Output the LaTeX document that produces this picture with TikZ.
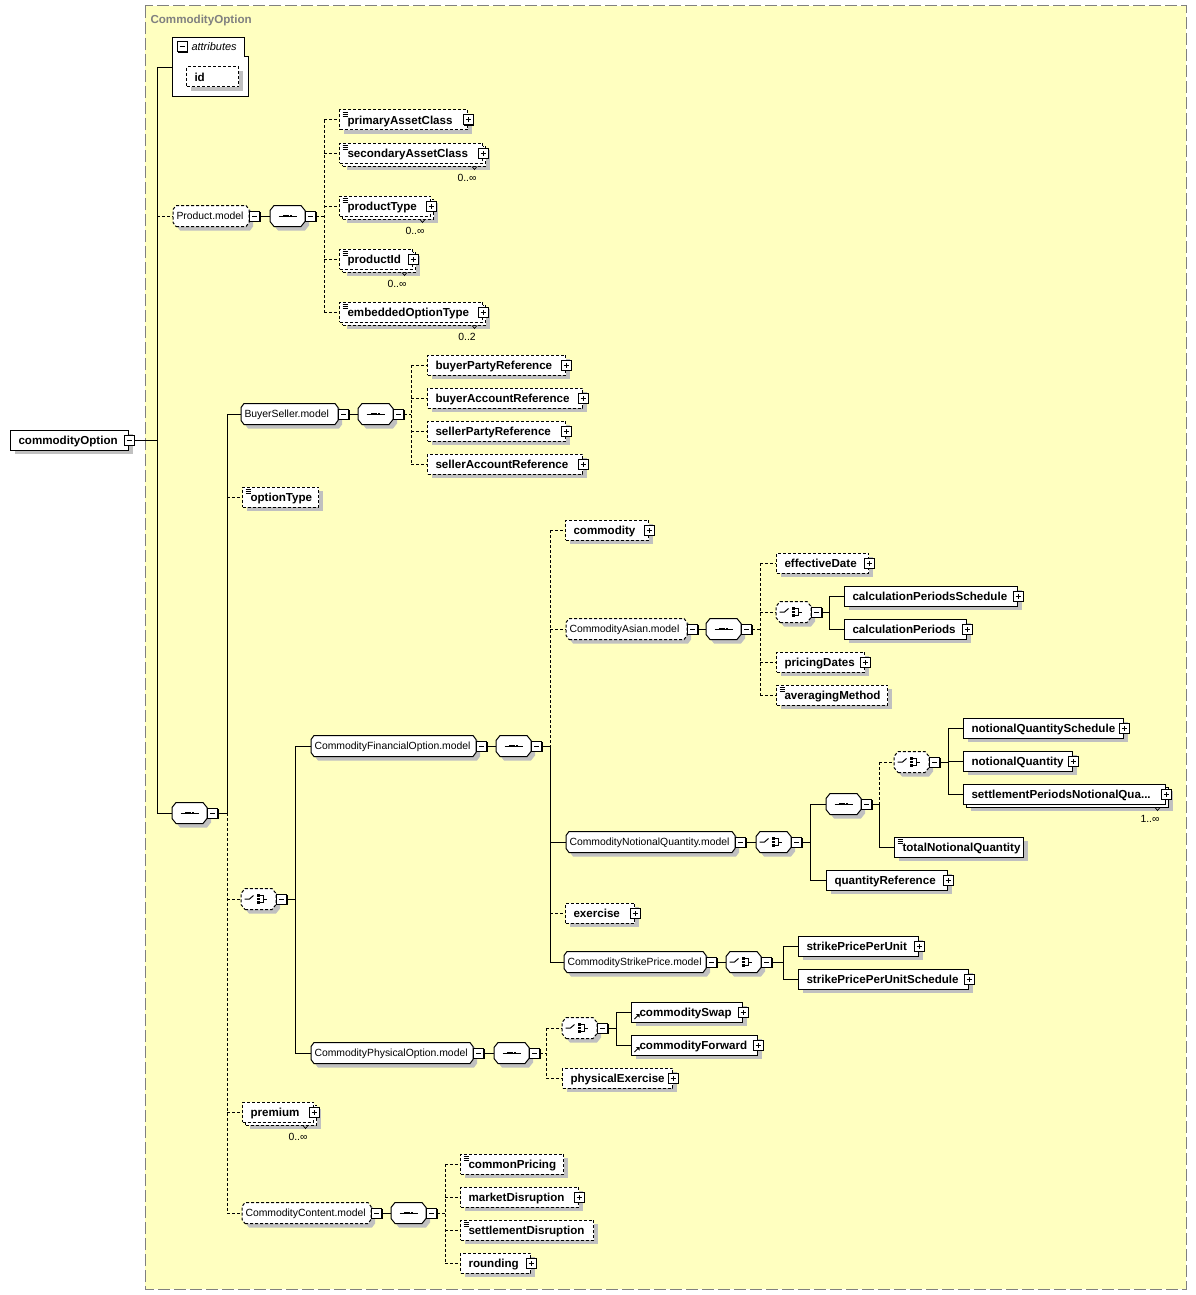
\documentclass[tikz,border=0pt]{standalone}
\usepackage{fontspec}
\newfontfamily\lsans{Liberation Sans}
\usetikzlibrary{positioning,shadows}
\definecolor{bgyellow}{RGB}{255,255,192}
\definecolor{shadowgray}{RGB}{192,192,192}
\definecolor{framegray}{RGB}{128,128,128}
\newcommand\elemfont{\lsans\bfseries\fontsize{11.6}{13}\selectfont}
\newcommand\grpfont{\lsans\fontsize{10.4}{12}\selectfont}

% octagon box for groups and compositors
\makeatletter
\pgfkeys{/pgf/oct xcut/.initial=3pt,/pgf/oct ycut/.initial=4pt}
\pgfdeclareshape{octbox}{%
  \inheritsavedanchors[from=rectangle]%
  \inheritanchorborder[from=rectangle]%
  \inheritanchor[from=rectangle]{center}%
  \inheritanchor[from=rectangle]{north}%
  \inheritanchor[from=rectangle]{south}%
  \inheritanchor[from=rectangle]{west}%
  \inheritanchor[from=rectangle]{east}%
  \inheritanchor[from=rectangle]{north west}%
  \inheritanchor[from=rectangle]{north east}%
  \inheritanchor[from=rectangle]{south west}%
  \inheritanchor[from=rectangle]{south east}%
  \backgroundpath{%
    \southwest\edef\oxa{\the\pgf@x}\edef\oya{\the\pgf@y}%
    \northeast\edef\oxb{\the\pgf@x}\edef\oyb{\the\pgf@y}%
    \pgfmathsetlengthmacro\ocx{\pgfkeysvalueof{/pgf/oct xcut}}%
    \pgfmathsetlengthmacro\ocy{\pgfkeysvalueof{/pgf/oct ycut}}%
    \pgfpathmoveto{\pgfpoint{\oxa+\ocx}{\oya}}%
    \pgfpathlineto{\pgfpoint{\oxb-\ocx}{\oya}}%
    \pgfpathlineto{\pgfpoint{\oxb}{\oya+\ocy}}%
    \pgfpathlineto{\pgfpoint{\oxb}{\oyb-\ocy}}%
    \pgfpathlineto{\pgfpoint{\oxb-\ocx}{\oyb}}%
    \pgfpathlineto{\pgfpoint{\oxa+\ocx}{\oyb}}%
    \pgfpathlineto{\pgfpoint{\oxa}{\oyb-\ocy}}%
    \pgfpathlineto{\pgfpoint{\oxa}{\oya+\ocy}}%
    \pgfpathclose}%
}
\makeatother

\begin{document}
\begin{tikzpicture}[x=1pt,y=-1pt,line width=1pt,
  opt/.style={dash pattern=on 3pt off 2pt},
  sh/.style={general shadow={shadow xshift=4pt,shadow yshift=-4pt,fill=shadowgray}},
  multi/.style={general shadow={shadow xshift=7pt,shadow yshift=-7pt,fill=shadowgray},
    general shadow={shadow xshift=3pt,shadow yshift=-3pt,fill=white,draw,#1}},
  multi/.default=solid,
  box/.style={draw,fill=white,anchor=west,minimum height=20pt,inner xsep=8pt,inner ysep=0pt,
    font=\elemfont,text height=8.5pt,text depth=0pt,
    execute at begin node={\hbox to #1pt\bgroup},execute at end node={\hss\egroup}},
  elem/.style={box=#1,sh},
  elemm/.style={box=#1},
  grp/.style={draw,fill=white,anchor=west,octbox,oct xcut=3pt,oct ycut=4pt,minimum height=20pt,
    inner xsep=3pt,inner ysep=0pt,font=\grpfont,text height=7pt,text depth=0pt,
    execute at begin node={\hbox to #1pt\bgroup},execute at end node={\hss\egroup},sh},
  comp/.style={draw,fill=white,anchor=west,octbox,oct xcut=4pt,oct ycut=5pt,
    minimum width=34pt,minimum height=20pt,inner sep=0pt,sh},
  seqc/.style={comp,path picture={
    \draw[solid] ([xshift=-9pt]path picture bounding box.center) -- ([xshift=9pt]path picture bounding box.center);
    \foreach \d in {-3.2,0,3.2} \fill[black] ([xshift=\d pt]path picture bounding box.center) +(-1.2pt,-1.3pt) rectangle +(1.2pt,1.3pt);}},
  choc/.style={comp,path picture={
    \draw[solid] ([xshift=-14pt]path picture bounding box.center) -- ([xshift=-9pt]path picture bounding box.center)
      -- ([shift={(-5pt,3.5pt)}]path picture bounding box.center);
    \foreach \d in {-3.5,0,3.5} \fill[black] ([shift={(0pt,\d pt)}]path picture bounding box.center) +(-1.4pt,-1.3pt) rectangle +(1.4pt,1.3pt);
    \draw[solid] ([shift={(1.4pt,3.5pt)}]path picture bounding box.center) -- ++(3.6pt,0pt) -- ++(0pt,-7pt) -- ++(-3.6pt,0pt);
    \draw[solid] ([shift={(5pt,0pt)}]path picture bounding box.center) -- ++(3.5pt,0pt);}},
  simple/.style={path picture={
    \foreach \k in {2,4,6} \draw[solid,line width=0.7pt] ([shift={(3pt,-\k pt)}]path picture bounding box.north west) -- ++(5pt,0pt);}},
  refe/.style={path picture={
    \draw[solid,line width=0.8pt] ([shift={(3pt,3pt)}]path picture bounding box.south west) -- ++(4pt,4pt);
    \fill[black] ([shift={(8pt,8pt)}]path picture bounding box.south west) -- ++(-3.5pt,0pt) -- ++(3.5pt,-3.5pt) -- cycle;}},
  pm/.style={draw,fill=white,solid,minimum size=10pt,inner sep=0pt,
    general shadow={shadow xshift=1pt,shadow yshift=-1pt,fill=black}},
  mbox/.style={pm,path picture={
    \draw ([xshift=2.5pt]path picture bounding box.west) -- ([xshift=-2.5pt]path picture bounding box.east);}},
  pbox/.style={pm,path picture={
    \draw ([xshift=2.5pt]path picture bounding box.west) -- ([xshift=-2.5pt]path picture bounding box.east);
    \draw ([yshift=2.5pt]path picture bounding box.south) -- ([yshift=-2.5pt]path picture bounding box.north);}},
  mult/.style={font=\grpfont,inner sep=0pt}]
\useasboundingbox (0,0) rectangle (1196,1295);
\draw[framegray,dash pattern=on 12pt off 4pt,fill=bgyellow] (145,6) rectangle (1186,1289);
\node[anchor=west,inner sep=0pt,text=framegray,font=\elemfont,text height=8.5pt,text depth=0pt] (title) at (150,19) {CommodityOption};

% root and attributes
\node[elem=102] (root) at (10,440) {commodityOption};
\draw[fill=white] (172,38) -- (244,38) -- (244,57) -- (248,57) -- (248,97) -- (172,97) -- cycle;
\coordinate (attr) at (172,68);
\node[mbox] (attr-m) at (182,47) {};
\node[anchor=west,inner sep=0pt,font=\lsans\itshape\fontsize{11}{13}\selectfont,text height=7.5pt,text depth=0pt] (attr-t) at (191,47) {attributes};
\node[elem=36,opt] (id) at (186,77) {id};

% Product.model
\node[grp=69,opt] (pmod) at (173,216) {Product.model};
\node[seqc] (pseq) at (270,216) {};
\node[elem=112,opt,simple] (pac) at (339,120) {primaryAssetClass};
\node[elemm=127,opt,simple,multi=opt] (sac) at (339,153) {secondaryAssetClass};
\node[elemm=75,opt,simple,multi=opt] (pt) at (339,206) {productType};
\node[elemm=57,opt,simple,multi=opt] (pid) at (339,259) {productId};
\node[elemm=127,opt,simple,multi=opt] (eot) at (339,312) {embeddedOptionType};

% main sequence
\node[seqc] (mseq) at (172,813) {};
\node[grp=90] (bsmod) at (241,414) {BuyerSeller.model};
\node[seqc] (bsseq) at (358,414) {};
\node[elem=122,opt] (bpr) at (427,365) {buyerPartyReference};
\node[elem=139,opt] (bar) at (427,398) {buyerAccountReference};
\node[elem=122,opt] (spr) at (427,431) {sellerPartyReference};
\node[elem=139,opt] (sar) at (427,464) {sellerAccountReference};
\node[elem=60,opt,simple] (ot) at (242,497) {optionType};
\node[choc,opt] (mch) at (241,899) {};

% CommodityFinancialOption.model
\node[grp=158] (cfo) at (311,746) {CommodityFinancialOption.model};
\node[seqc] (cfseq) at (496,746) {};
\node[elem=67,opt] (comm) at (565,530) {commodity};
\node[grp=114,opt] (camod) at (566,629) {CommodityAsian.model};
\node[seqc] (caseq) at (706,629) {};
\node[elem=76,opt] (effd) at (776,563) {effectiveDate};
\node[choc,opt] (cach) at (776,612) {};
\node[elem=157] (cps) at (844,596) {calculationPeriodsSchedule};
\node[elem=106] (cp) at (844,629) {calculationPeriods};
\node[elem=72,opt] (prd) at (776,662) {pricingDates};
\node[elem=95,opt,simple] (avgm) at (776,695) {averagingMethod};
\node[grp=162] (cnq) at (566,842) {CommodityNotionalQuantity.model};
\node[choc] (cnch) at (756,842) {};
\node[seqc] (nseq) at (826,804) {};
\node[choc,opt] (nch) at (894,762) {};
\node[elem=144] (nqs) at (963,728) {notionalQuantitySchedule};
\node[elem=93] (nq) at (963,761) {notionalQuantity};
\node[elemm=186,multi] (spnq) at (963,794) {settlementPeriodsNotionalQua...};
\node[elem=113,simple] (tnq) at (894,847) {totalNotionalQuantity};
\node[elem=105] (qr) at (826,880) {quantityReference};
\node[elem=53,opt] (exer) at (565,913) {exercise};
\node[grp=135] (csp) at (564,962) {CommodityStrikePrice.model};
\node[choc] (scch) at (726,962) {};
\node[elem=104] (sppu) at (798,946) {strikePricePerUnit};
\node[elem=154] (sppus) at (798,979) {strikePricePerUnitSchedule};

% CommodityPhysicalOption.model
\node[grp=155] (cpo) at (311,1053) {CommodityPhysicalOption.model};
\node[seqc] (ppseq) at (494,1053) {};
\node[choc,opt] (pch) at (562,1028) {};
\node[elem=95,refe] (cs) at (631,1012) {commoditySwap};
\node[elem=110,refe] (cf) at (631,1045) {commodityForward};
\node[elem=94,opt] (pex) at (562,1078) {physicalExercise};
\node[elemm=55,opt,multi=opt] (prem) at (242,1112) {premium};

% CommodityContent.model
\node[grp=122,opt] (ccmod) at (242,1213) {CommodityContent.model};
\node[seqc] (ccseq) at (391,1213) {};
\node[elem=87,opt,simple] (cpr) at (460,1164) {commonPricing};
\node[elem=102,opt] (mkd) at (460,1197) {marketDisruption};
\node[elem=117,opt,simple] (std) at (460,1230) {settlementDisruption};
\node[elem=54,opt] (rnd) at (460,1263) {rounding};

% minus and plus boxes
\node[mbox] (root-m) at (root.east) {};
\foreach \n in {pmod,pseq,bsmod,bsseq,mseq,mch,cfo,cfseq,camod,caseq,cach,cnq,cnch,nseq,nch,csp,scch,cpo,ppseq,pch,ccmod,ccseq}
  \node[mbox,anchor=west] (\n-m) at (\n.east) {};
\foreach \n in {pac,sac,pt,pid,eot,bpr,bar,spr,sar,comm,effd,cps,cp,prd,nqs,nq,spnq,qr,exer,sppu,sppus,cs,cf,pex,prem,mkd,rnd}
  \node[pbox] (\n-p) at (\n.east) {};
\foreach \n/\m in {sac/0..∞,pt/0..∞,pid/0..∞,eot/0..2,spnq/1..∞,prem/0..∞}{
  \node[mult] (\n-n) at ([shift={(-16pt,-14pt)}]\n.south east) {\m};
  \draw[line width=0.7pt] ([shift={(-11pt,-3pt)}]\n.south east) -- ++(2.5pt,-3pt) -- ++(2.5pt,3pt);
}

% connectors
\coordinate (rb) at (157,440);
\draw (root-m.east) -- (rb);
\draw (rb |- attr) -- (rb |- mseq.west);
\draw (rb |- attr) -- (attr);
\draw[opt] (rb |- pmod.west) -- (pmod.west);
\draw (rb |- mseq.west) -- (mseq.west);

\draw (pmod-m.east) -- (pseq.west);
\coordinate (pb) at (324,216);
\draw[opt] (pseq-m.east) -- (pb);
\draw[opt] (pb |- pac.west) -- (pb |- eot.west);
\foreach \n in {pac,sac,pt,pid,eot} \draw[opt] (pb |- \n.west) -- (\n.west);

\coordinate (mb) at (227,813);
\draw (mseq-m.east) -- (mb);
\draw (mb |- bsmod.west) -- (mb);
\draw[opt] (mb) -- (mb |- ccmod.west);
\draw (mb |- bsmod.west) -- (bsmod.west);
\foreach \n in {ot,mch,prem,ccmod} \draw[opt] (mb |- \n.west) -- (\n.west);

\draw (bsmod-m.east) -- (bsseq.west);
\coordinate (bsb) at (411,414);
\draw[opt] (bsseq-m.east) -- (bsb);
\draw[opt] (bsb |- bpr.west) -- (bsb |- sar.west);
\foreach \n in {bpr,bar,spr,sar} \draw[opt] (bsb |- \n.west) -- (\n.west);

\coordinate (chb) at (295,899);
\draw (mch-m.east) -- (chb);
\draw (chb |- cfo.west) -- (chb |- cpo.west);
\foreach \n in {cfo,cpo} \draw (chb |- \n.west) -- (\n.west);

\draw (cfo-m.east) -- (cfseq.west);
\coordinate (cfb) at (550,746);
\draw (cfseq-m.east) -- (cfb);
\draw[opt] (cfb |- comm.west) -- (cfb);
\draw (cfb) -- (cfb |- csp.west);
\foreach \n in {comm,camod,exer} \draw[opt] (cfb |- \n.west) -- (\n.west);
\foreach \n in {cnq,csp} \draw (cfb |- \n.west) -- (\n.west);

\draw (camod-m.east) -- (caseq.west);
\coordinate (cab) at (760,629);
\draw[opt] (caseq-m.east) -- (cab);
\draw[opt] (cab |- effd.west) -- (cab |- avgm.west);
\foreach \n in {effd,cach,prd,avgm} \draw[opt] (cab |- \n.west) -- (\n.west);
\coordinate (cachb) at (829,612);
\draw (cach-m.east) -- (cachb);
\draw (cachb |- cps.west) -- (cachb |- cp.west);
\foreach \n in {cps,cp} \draw (cachb |- \n.west) -- (\n.west);

\draw (cnq-m.east) -- (cnch.west);
\coordinate (cnb) at (810,842);
\draw (cnch-m.east) -- (cnb);
\draw (cnb |- nseq.west) -- (cnb |- qr.west);
\foreach \n in {nseq,qr} \draw (cnb |- \n.west) -- (\n.west);
\coordinate (nsb) at (879,804);
\draw (nseq-m.east) -- (nsb);
\draw[opt] (nsb |- nch.west) -- (nsb);
\draw (nsb) -- (nsb |- tnq.west);
\draw[opt] (nsb |- nch.west) -- (nch.west);
\draw (nsb |- tnq.west) -- (tnq.west);
\coordinate (nchb) at (948,762);
\draw (nch-m.east) -- (nchb);
\draw (nchb |- nqs.west) -- (nchb |- spnq.west);
\foreach \n in {nqs,nq,spnq} \draw (nchb |- \n.west) -- (\n.west);

\draw (csp-m.east) -- (scch.west);
\coordinate (scb) at (783,962);
\draw (scch-m.east) -- (scb);
\draw (scb |- sppu.west) -- (scb |- sppus.west);
\foreach \n in {sppu,sppus} \draw (scb |- \n.west) -- (\n.west);

\draw (cpo-m.east) -- (ppseq.west);
\coordinate (ppb) at (546,1053);
\draw[opt] (ppseq-m.east) -- (ppb);
\draw[opt] (ppb |- pch.west) -- (ppb |- pex.west);
\foreach \n in {pch,pex} \draw[opt] (ppb |- \n.west) -- (\n.west);
\coordinate (pchb) at (616,1028);
\draw (pch-m.east) -- (pchb);
\draw (pchb |- cs.west) -- (pchb |- cf.west);
\foreach \n in {cs,cf} \draw (pchb |- \n.west) -- (\n.west);

\draw (ccmod-m.east) -- (ccseq.west);
\coordinate (ccb) at (445,1213);
\draw[opt] (ccseq-m.east) -- (ccb);
\draw[opt] (ccb |- cpr.west) -- (ccb |- rnd.west);
\foreach \n in {cpr,mkd,std,rnd} \draw[opt] (ccb |- \n.west) -- (\n.west);
\end{tikzpicture}
\end{document}
